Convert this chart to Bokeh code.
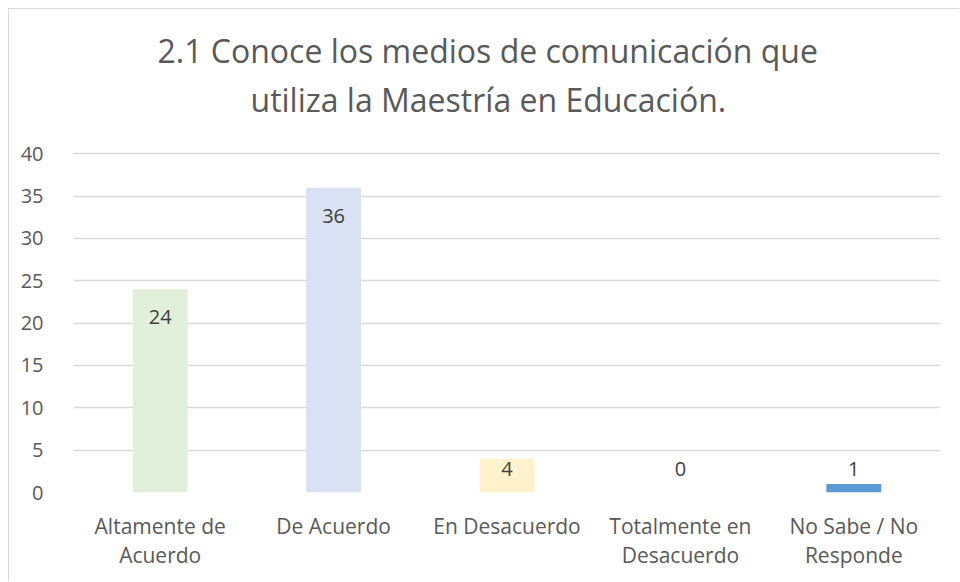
from bokeh.plotting import figure
from bokeh.models import ColumnDataSource, Title, FixedTicker, Range1d
from bokeh.core.properties import value
from bokeh.embed import file_html
from bokeh.resources import INLINE

categories = ["Altamente de\nAcuerdo", "De Acuerdo", "En Desacuerdo", "Totalmente en\nDesacuerdo", "No Sabe / No\nResponde"]
values = [24, 36, 4, 0, 1]
colors = ["#E2EFDA", "#D9E1F2", "#FFF2CC", "#FFFFFF", "#5B9BD5"]
y_ticks = [0, 5, 10, 15, 20, 25, 30, 35, 40]
title_lines = ["2.1 Conoce los medios de comunicación que", "utiliza la Maestría en Educación."]

FONT = "Open Sans"
TXT = "#595959"

label_y = [max(v - 3.3, 2.8) for v in values]
src = ColumnDataSource(dict(cat=categories, val=values, col=colors,
                            ly=label_y, lt=[str(v) for v in values]))

p = figure(x_range=categories, y_range=Range1d(0, 40.15), width=951, height=573,
           output_backend="svg", toolbar_location=None,
           min_border_left=64, min_border_right=20, min_border_top=143, min_border_bottom=90)
p.styles = {"border-left": "1px solid #D9D9D9", "border-top": "1px solid #D9D9D9",
            "margin-left": "8px", "margin-top": "8px"}
p.outline_line_color = None
p.background_fill_color = "white"

p.vbar(x="cat", top="val", width=0.317, fill_color="col", line_color=None, source=src)
p.text(x="cat", y="ly", text="lt", source=src, text_align="center", text_baseline="middle",
       text_font=value(FONT), text_font_size="20px", text_color="#404040")

t2 = Title(text=title_lines[1], align="left", offset=177, standoff=64,
           text_font=FONT, text_font_size="32px", text_font_style="normal", text_color=TXT)
t1 = Title(text=title_lines[0], align="left", offset=84, standoff=-57,
           text_font=FONT, text_font_size="32px", text_font_style="normal", text_color=TXT)
p.add_layout(t2, "above")
p.add_layout(t1, "above")

p.yaxis.ticker = FixedTicker(ticks=y_ticks)
p.yaxis.axis_line_color = None
p.yaxis.major_tick_line_color = None
p.yaxis.minor_tick_line_color = None
p.yaxis.major_label_text_font = FONT
p.yaxis.major_label_text_font_size = "20px"
p.yaxis.major_label_text_color = TXT
p.yaxis.major_label_standoff = 24

p.xaxis.axis_line_color = None
p.xaxis.major_tick_line_color = None
p.xaxis.major_label_text_font = FONT
p.xaxis.major_label_text_font_size = "21px"
p.xaxis.major_label_text_line_height = 1.05
p.xaxis.major_label_text_color = TXT
p.xaxis.major_label_standoff = 13

p.xgrid.grid_line_color = None
p.ygrid.grid_line_color = "#D9D9D9"
p.ygrid.grid_line_width = 1.5

open("out.html", "w").write(file_html(p, INLINE))
